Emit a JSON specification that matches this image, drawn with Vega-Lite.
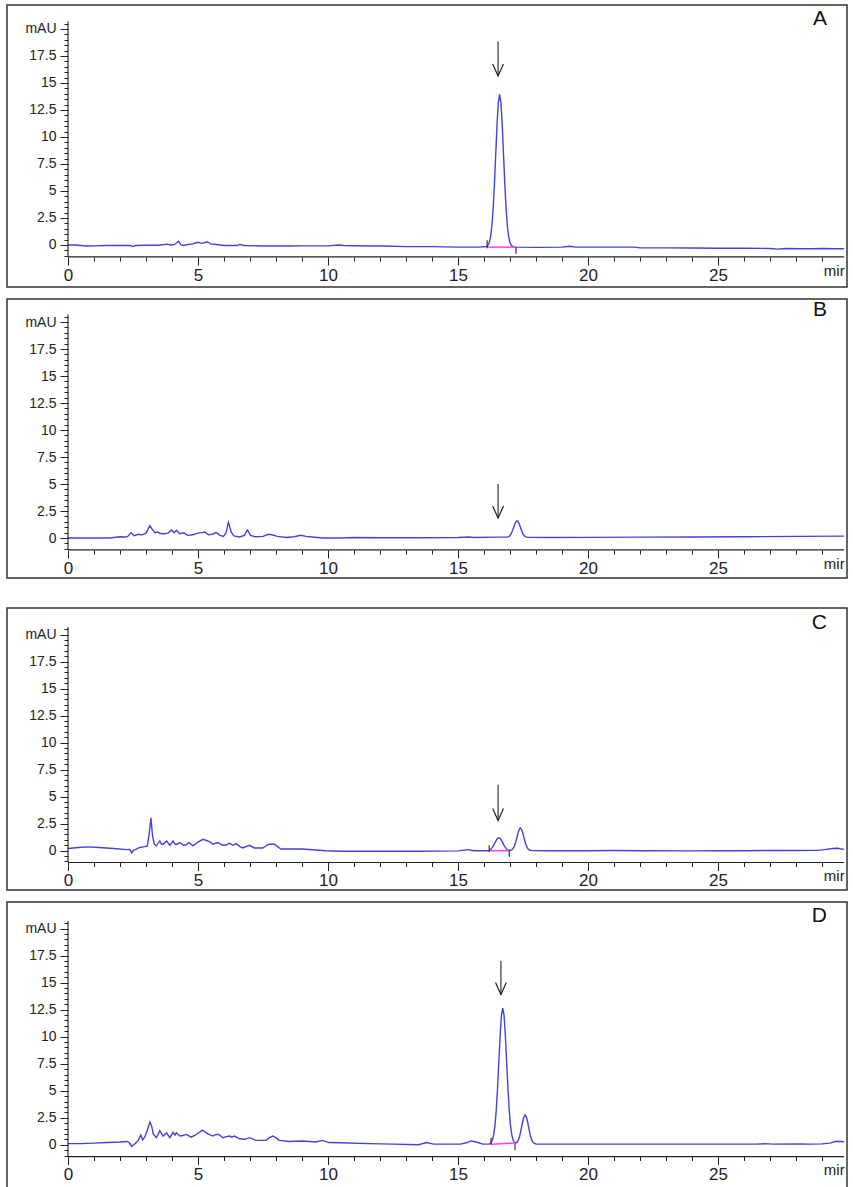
{
  "$schema": "https://vega.github.io/schema/vega-lite/v6.json",
  "background": "white",
  "padding": {"left": 6, "top": 4, "right": 6, "bottom": 4},
  "datasets": {
    "A": [
      {"t":0,"v":0},{"t":0.3,"v":0},{"t":0.5,"v":-0.05},{"t":0.7,"v":-0.1},{"t":1.0,"v":-0.08},{"t":1.5,"v":-0.05},{"t":2.0,"v":-0.05},{"t":2.4,"v":-0.05},{"t":2.5,"v":-0.15},{"t":2.6,"v":-0.05},{"t":3.0,"v":-0.03},{"t":3.5,"v":-0.03},{"t":3.8,"v":0.08},{"t":3.95,"v":0.0},{"t":4.1,"v":0.05},{"t":4.25,"v":0.35},{"t":4.35,"v":0.0},{"t":4.45,"v":-0.05},{"t":4.6,"v":0.05},{"t":4.8,"v":0.1},{"t":5.0,"v":0.25},{"t":5.15,"v":0.15},{"t":5.35,"v":0.3},{"t":5.5,"v":0.1},{"t":5.7,"v":0.05},{"t":6.0,"v":-0.05},{"t":6.5,"v":-0.05},{"t":6.6,"v":0.05},{"t":6.8,"v":-0.05},{"t":7.5,"v":-0.1},{"t":8.5,"v":-0.1},{"t":9.0,"v":-0.08},{"t":10.0,"v":-0.08},{"t":10.4,"v":0.0},{"t":10.6,"v":-0.05},{"t":11.5,"v":-0.1},{"t":12.2,"v":-0.1},{"t":13.0,"v":-0.15},{"t":14.0,"v":-0.15},{"t":15.0,"v":-0.2},{"t":15.8,"v":-0.2},
      {"t":16.1,"v":-0.14},{"t":16.15,"v":-0.04},{"t":16.2,"v":0.2},{"t":16.25,"v":0.73},{"t":16.3,"v":1.71},{"t":16.35,"v":3.32},{"t":16.4,"v":5.62},{"t":16.45,"v":8.39},{"t":16.5,"v":11.13},{"t":16.55,"v":13.19},{"t":16.6,"v":13.95},{"t":16.65,"v":13.19},{"t":16.7,"v":11.13},{"t":16.75,"v":8.39},{"t":16.8,"v":5.62},{"t":16.85,"v":3.32},{"t":16.9,"v":1.71},{"t":16.95,"v":0.73},{"t":17.0,"v":0.2},{"t":17.05,"v":-0.04},{"t":17.1,"v":-0.14},{"t":17.2,"v":-0.2},
      {"t":18.0,"v":-0.22},{"t":19.0,"v":-0.2},{"t":19.3,"v":-0.12},{"t":19.5,"v":-0.2},{"t":20.5,"v":-0.2},{"t":21.8,"v":-0.2},{"t":22.0,"v":-0.27},{"t":23.0,"v":-0.27},{"t":24.0,"v":-0.28},{"t":25.0,"v":-0.3},{"t":26.0,"v":-0.3},{"t":27.0,"v":-0.32},{"t":27.3,"v":-0.38},{"t":27.6,"v":-0.32},{"t":28.2,"v":-0.35},{"t":28.6,"v":-0.35},{"t":29.0,"v":-0.33},{"t":29.5,"v":-0.35},{"t":29.85,"v":-0.35}
    ],
    "B": [
      {"t":0,"v":0},{"t":1.0,"v":0},{"t":1.6,"v":0},{"t":2.0,"v":0.12},{"t":2.2,"v":0.1},{"t":2.3,"v":0.15},{"t":2.42,"v":0.5},{"t":2.55,"v":0.22},{"t":2.7,"v":0.35},{"t":2.85,"v":0.3},{"t":3.0,"v":0.45},{"t":3.15,"v":1.15},{"t":3.25,"v":0.75},{"t":3.35,"v":0.5},{"t":3.45,"v":0.55},{"t":3.55,"v":0.42},{"t":3.7,"v":0.4},{"t":3.85,"v":0.45},{"t":3.98,"v":0.75},{"t":4.08,"v":0.5},{"t":4.17,"v":0.72},{"t":4.3,"v":0.4},{"t":4.45,"v":0.48},{"t":4.6,"v":0.25},{"t":4.8,"v":0.3},{"t":5.0,"v":0.45},{"t":5.15,"v":0.5},{"t":5.26,"v":0.55},{"t":5.4,"v":0.3},{"t":5.55,"v":0.35},{"t":5.7,"v":0.5},{"t":5.85,"v":0.25},{"t":5.98,"v":0.15},{"t":6.08,"v":0.5},{"t":6.17,"v":1.45},{"t":6.28,"v":0.55},{"t":6.38,"v":0.2},{"t":6.6,"v":0.1},{"t":6.78,"v":0.25},{"t":6.9,"v":0.75},{"t":7.02,"v":0.25},{"t":7.2,"v":0.12},{"t":7.5,"v":0.15},{"t":7.7,"v":0.35},{"t":7.85,"v":0.3},{"t":8.05,"v":0.15},{"t":8.4,"v":0.05},{"t":8.7,"v":0.12},{"t":8.95,"v":0.25},{"t":9.15,"v":0.15},{"t":9.4,"v":0.1},{"t":9.8,"v":0.0},{"t":10.5,"v":0.0},{"t":11.0,"v":0.05},{"t":12.0,"v":0.03},{"t":13.5,"v":0.03},{"t":15.0,"v":0.05},{"t":15.4,"v":0.1},{"t":15.6,"v":0.05},{"t":16.5,"v":0.08},{"t":16.9,"v":0.08},
      {"t":16.95,"v":0.12},{"t":17.0,"v":0.23},{"t":17.05,"v":0.42},{"t":17.1,"v":0.71},{"t":17.15,"v":1.06},{"t":17.2,"v":1.39},{"t":17.25,"v":1.58},{"t":17.3,"v":1.56},{"t":17.35,"v":1.33},{"t":17.4,"v":0.99},{"t":17.45,"v":0.65},{"t":17.5,"v":0.37},{"t":17.55,"v":0.2},{"t":17.6,"v":0.11},{"t":17.7,"v":0.06},
      {"t":18.5,"v":0.05},{"t":20,"v":0.06},{"t":22,"v":0.08},{"t":24,"v":0.1},{"t":26,"v":0.12},{"t":28,"v":0.15},{"t":29.85,"v":0.18}
    ],
    "C": [
      {"t":0,"v":0.2},{"t":0.4,"v":0.3},{"t":0.75,"v":0.35},{"t":1.2,"v":0.3},{"t":1.75,"v":0.2},{"t":2.26,"v":0.1},{"t":2.38,"v":0.12},{"t":2.45,"v":-0.2},{"t":2.52,"v":0.05},{"t":2.6,"v":0.1},{"t":2.75,"v":0.3},{"t":2.9,"v":0.35},{"t":3.05,"v":0.45},{"t":3.12,"v":1.5},{"t":3.19,"v":3.05},{"t":3.25,"v":1.4},{"t":3.32,"v":0.6},{"t":3.4,"v":0.45},{"t":3.53,"v":0.9},{"t":3.6,"v":0.6},{"t":3.66,"v":0.6},{"t":3.79,"v":0.9},{"t":3.92,"v":0.5},{"t":4.04,"v":0.9},{"t":4.12,"v":0.6},{"t":4.2,"v":0.6},{"t":4.3,"v":0.75},{"t":4.45,"v":0.5},{"t":4.55,"v":0.55},{"t":4.65,"v":0.75},{"t":4.81,"v":0.45},{"t":5.0,"v":0.8},{"t":5.19,"v":1.05},{"t":5.38,"v":0.9},{"t":5.5,"v":0.75},{"t":5.57,"v":0.6},{"t":5.76,"v":0.75},{"t":5.96,"v":0.5},{"t":6.1,"v":0.55},{"t":6.21,"v":0.7},{"t":6.34,"v":0.5},{"t":6.47,"v":0.65},{"t":6.6,"v":0.4},{"t":6.72,"v":0.25},{"t":6.98,"v":0.5},{"t":7.17,"v":0.25},{"t":7.49,"v":0.25},{"t":7.65,"v":0.5},{"t":7.74,"v":0.6},{"t":7.93,"v":0.6},{"t":8.05,"v":0.4},{"t":8.19,"v":0.15},{"t":8.6,"v":0.15},{"t":9.02,"v":0.15},{"t":9.4,"v":0.08},{"t":9.91,"v":0.0},{"t":10.5,"v":-0.05},{"t":12.0,"v":-0.05},{"t":13.5,"v":-0.05},{"t":15.0,"v":-0.02},{"t":15.4,"v":0.1},{"t":15.6,"v":0.0},{"t":16.2,"v":0.0},
      {"t":16.27,"v":0.15},{"t":16.32,"v":0.3},{"t":16.37,"v":0.49},{"t":16.42,"v":0.73},{"t":16.47,"v":0.96},{"t":16.52,"v":1.14},{"t":16.57,"v":1.2},{"t":16.62,"v":1.14},{"t":16.67,"v":0.96},{"t":16.72,"v":0.73},{"t":16.77,"v":0.49},{"t":16.82,"v":0.3},{"t":16.87,"v":0.16},{"t":16.92,"v":0.08},{"t":16.97,"v":0.04},{"t":17.02,"v":0.04},{"t":17.07,"v":0.08},{"t":17.12,"v":0.21},{"t":17.17,"v":0.44},{"t":17.22,"v":0.81},{"t":17.27,"v":1.27},{"t":17.32,"v":1.74},{"t":17.37,"v":2.05},{"t":17.4,"v":2.1},{"t":17.45,"v":1.95},{"t":17.5,"v":1.56},{"t":17.55,"v":1.08},{"t":17.6,"v":0.64},{"t":17.65,"v":0.33},{"t":17.7,"v":0.15},{"t":17.75,"v":0.06},{"t":17.85,"v":0.01},
      {"t":18.5,"v":0.0},{"t":20,"v":0.0},{"t":21,"v":0.02},{"t":22,"v":0.0},{"t":24,"v":-0.02},{"t":25,"v":0.0},{"t":26,"v":0.0},{"t":27,"v":0.02},{"t":28,"v":0.02},{"t":28.8,"v":0.03},{"t":29.1,"v":0.1},{"t":29.4,"v":0.2},{"t":29.6,"v":0.22},{"t":29.75,"v":0.15},{"t":29.85,"v":0.12}
    ],
    "D": [
      {"t":0,"v":0.1},{"t":0.5,"v":0.1},{"t":1.0,"v":0.15},{"t":1.5,"v":0.2},{"t":2.0,"v":0.25},{"t":2.26,"v":0.3},{"t":2.35,"v":0.2},{"t":2.45,"v":-0.15},{"t":2.52,"v":0.0},{"t":2.58,"v":0.1},{"t":2.7,"v":0.4},{"t":2.8,"v":0.9},{"t":2.87,"v":0.45},{"t":2.95,"v":0.7},{"t":3.05,"v":1.35},{"t":3.15,"v":2.1},{"t":3.22,"v":1.7},{"t":3.28,"v":1.0},{"t":3.4,"v":0.65},{"t":3.53,"v":1.3},{"t":3.66,"v":0.8},{"t":3.79,"v":1.1},{"t":3.92,"v":0.65},{"t":4.04,"v":1.15},{"t":4.12,"v":0.9},{"t":4.17,"v":1.1},{"t":4.3,"v":0.8},{"t":4.42,"v":0.85},{"t":4.55,"v":0.95},{"t":4.74,"v":0.7},{"t":4.94,"v":0.95},{"t":5.17,"v":1.35},{"t":5.38,"v":1.0},{"t":5.57,"v":0.8},{"t":5.7,"v":0.95},{"t":5.8,"v":0.95},{"t":5.96,"v":0.65},{"t":6.1,"v":0.75},{"t":6.21,"v":0.8},{"t":6.3,"v":0.7},{"t":6.4,"v":0.8},{"t":6.6,"v":0.55},{"t":6.8,"v":0.5},{"t":6.98,"v":0.65},{"t":7.23,"v":0.4},{"t":7.61,"v":0.4},{"t":7.75,"v":0.65},{"t":7.87,"v":0.8},{"t":8.0,"v":0.65},{"t":8.12,"v":0.4},{"t":8.5,"v":0.3},{"t":9.02,"v":0.35},{"t":9.3,"v":0.3},{"t":9.53,"v":0.25},{"t":9.78,"v":0.4},{"t":10.04,"v":0.2},{"t":10.5,"v":0.18},{"t":11.57,"v":0.1},{"t":12.5,"v":0.05},{"t":13.48,"v":0.0},{"t":13.8,"v":0.2},{"t":14.06,"v":0.05},{"t":15.1,"v":0.05},{"t":15.35,"v":0.2},{"t":15.5,"v":0.35},{"t":15.7,"v":0.25},{"t":15.96,"v":0.05},{"t":16.2,"v":0.05},
      {"t":16.27,"v":0.19},{"t":16.32,"v":0.41},{"t":16.37,"v":0.88},{"t":16.42,"v":1.75},{"t":16.47,"v":3.19},{"t":16.52,"v":5.23},{"t":16.57,"v":7.7},{"t":16.62,"v":10.14},{"t":16.67,"v":11.97},{"t":16.72,"v":12.65},{"t":16.77,"v":11.97},{"t":16.82,"v":10.14},{"t":16.87,"v":7.7},{"t":16.92,"v":5.23},{"t":16.97,"v":3.19},{"t":17.02,"v":1.75},{"t":17.07,"v":0.88},{"t":17.12,"v":0.41},{"t":17.17,"v":0.22},
      {"t":17.22,"v":0.16},{"t":17.27,"v":0.21},{"t":17.32,"v":0.42},{"t":17.37,"v":0.78},{"t":17.42,"v":1.32},{"t":17.47,"v":1.94},{"t":17.52,"v":2.48},{"t":17.58,"v":2.75},{"t":17.63,"v":2.56},{"t":17.68,"v":2.06},{"t":17.73,"v":1.44},{"t":17.78,"v":0.88},{"t":17.83,"v":0.47},{"t":17.88,"v":0.24},{"t":17.93,"v":0.12},{"t":18.0,"v":0.07},
      {"t":18.5,"v":0.05},{"t":20,"v":0.05},{"t":22,"v":0.05},{"t":24,"v":0.05},{"t":26.5,"v":0.05},{"t":26.8,"v":0.1},{"t":27.1,"v":0.05},{"t":28.2,"v":0.08},{"t":28.5,"v":0.05},{"t":29.0,"v":0.08},{"t":29.3,"v":0.15},{"t":29.55,"v":0.32},{"t":29.7,"v":0.3},{"t":29.85,"v":0.28}
    ],
    "rA": [
      {"t":0,"t2":29.85,"v":-1.1,"v2":-1.1},{"t":0,"t2":0,"v":-1.1,"v2":20.7},
      {"t":16.12,"t2":16.12,"v":-0.3,"v2":0.43},{"t":17.23,"t2":17.23,"v":-0.2,"v2":-0.8},
      {"t":16.54,"t2":16.54,"v":15.65,"v2":18.85}
    ],
    "rB": [
      {"t":0,"t2":29.85,"v":-1.1,"v2":-1.1},{"t":0,"t2":0,"v":-1.1,"v2":20.7},
      {"t":16.54,"t2":16.54,"v":1.85,"v2":5.0}
    ],
    "rC": [
      {"t":0,"t2":29.85,"v":-1.1,"v2":-1.1},{"t":0,"t2":0,"v":-1.1,"v2":20.7},
      {"t":16.2,"t2":16.2,"v":-0.1,"v2":0.5},{"t":16.97,"t2":16.97,"v":0.05,"v2":-0.55},
      {"t":16.54,"t2":16.54,"v":2.8,"v2":6.1}
    ],
    "rD": [
      {"t":0,"t2":29.85,"v":-1.1,"v2":-1.1},{"t":0,"t2":0,"v":-1.1,"v2":20.7},
      {"t":16.27,"t2":16.27,"v":0.0,"v2":0.65},{"t":17.19,"t2":17.19,"v":0.1,"v2":-0.52},
      {"t":16.65,"t2":16.65,"v":13.9,"v2":17.0}
    ],
    "pA": [{"t":16.12,"t2":17.23,"v":-0.2,"v2":-0.2}],
    "pC": [{"t":16.2,"t2":16.97,"v":0.0,"v2":0.0}],
    "pD": [{"t":16.27,"t2":17.19,"v":0.05,"v2":0.15}],
    "hA": [{"t":16.54,"v":15.65}],
    "hB": [{"t":16.54,"v":1.85}],
    "hC": [{"t":16.54,"v":2.8}],
    "hD": [{"t":16.65,"v":13.9}]
  },
  "spacing": 28,
  "vconcat": [
    {
      "spacing": 10,
      "vconcat": [
        {
          "width": 840, "height": 282,
          "title": {"text": "A", "anchor": "end", "frame": "group", "orient": "top", "offset": -41, "dx": -20, "baseline": "alphabetic", "fontSize": 21, "fontWeight": "normal", "font": "Liberation Sans", "color": "#111"},
          "encoding": {
            "x": {"field": "t", "type": "quantitative", "scale": {"domain": [-2.346, 29.96], "nice": false, "zero": false},
              "axis": {"orient": "bottom", "offset": -30, "title": null, "domain": false, "grid": false, "format": "~g", "labelOverlap": false, "labelFlush": false,
                "values": [0,1,2,3,4,5,6,7,8,9,10,11,12,13,14,15,16,17,18,19,20,21,22,23,24,25,26,27,28,29,29.85],
                "labelExpr": "datum.value > 29.5 ? 'mir' : (datum.value % 5 === 0 ? datum.label : '')",
                "tickSize": {"condition": {"test": "datum.value % 5 === 0", "value": 8}, "value": 4},
                "tickOpacity": {"condition": {"test": "datum.value > 29.5", "value": 0}, "value": 1},
                "labelAlign": {"condition": {"test": "datum.value > 29.5", "value": "right"}, "value": "center"},
                "labelFontSize": {"condition": {"test": "datum.value > 29.5", "value": 15}, "value": 17},
                "labelPadding": 2, "labelFont": "Liberation Sans", "labelColor": "#222", "tickColor": "#222"}},
            "y": {"field": "v", "type": "quantitative", "scale": {"domain": [-3.89, 22.22], "nice": false, "zero": false},
              "axis": {"orient": "left", "offset": -61, "title": null, "domain": false, "grid": false, "format": "~g", "labelOverlap": false,
                "values": [-1,-0.5,0,0.5,1,1.5,2,2.5,3,3.5,4,4.5,5,5.5,6,6.5,7,7.5,8,8.5,9,9.5,10,10.5,11,11.5,12,12.5,13,13.5,14,14.5,15,15.5,16,16.5,17,17.5,18,18.5,19,19.5,20,20.5],
                "labelExpr": "datum.value === 20 ? 'mAU' : (datum.value >= 0 && datum.value % 2.5 === 0 ? datum.label : '')",
                "tickSize": {"condition": {"test": "datum.value % 2.5 === 0", "value": 8}, "value": 4},
                "labelPadding": 4, "labelFontSize": 14, "labelFont": "Liberation Sans", "labelColor": "#222", "tickColor": "#222"}}
          },
          "layer": [
            {"data": {"name": "A"}, "mark": {"type": "line", "color": "#4343d8", "strokeWidth": 1.4}},
            {"data": {"name": "pA"}, "mark": {"type": "rule", "color": "#ff3cff", "strokeWidth": 1.5}, "encoding": {"x2": {"field": "t2"}, "y2": {"field": "v2"}}},
            {"data": {"name": "rA"}, "mark": {"type": "rule", "color": "#222", "strokeWidth": 1.1}, "encoding": {"x2": {"field": "t2"}, "y2": {"field": "v2"}}},
            {"data": {"name": "hA"}, "mark": {"type": "point", "shape": "M-0.45,-1L0,0L0.45,-1", "size": 576, "filled": false, "color": "#222", "strokeWidth": 1.2, "opacity": 1}}
          ]
        },
        {
          "width": 840, "height": 279,
          "title": {"text": "B", "anchor": "end", "frame": "group", "orient": "top", "offset": -38, "dx": -20, "baseline": "alphabetic", "fontSize": 21, "fontWeight": "normal", "font": "Liberation Sans", "color": "#111"},
          "encoding": {
            "x": {"field": "t", "type": "quantitative", "scale": {"domain": [-2.346, 29.96], "nice": false, "zero": false},
              "axis": {"orient": "bottom", "offset": -28, "title": null, "domain": false, "grid": false, "format": "~g", "labelOverlap": false, "labelFlush": false,
                "values": [0,1,2,3,4,5,6,7,8,9,10,11,12,13,14,15,16,17,18,19,20,21,22,23,24,25,26,27,28,29,29.85],
                "labelExpr": "datum.value > 29.5 ? 'mir' : (datum.value % 5 === 0 ? datum.label : '')",
                "tickSize": {"condition": {"test": "datum.value % 5 === 0", "value": 8}, "value": 4},
                "tickOpacity": {"condition": {"test": "datum.value > 29.5", "value": 0}, "value": 1},
                "labelAlign": {"condition": {"test": "datum.value > 29.5", "value": "right"}, "value": "center"},
                "labelFontSize": {"condition": {"test": "datum.value > 29.5", "value": 15}, "value": 17},
                "labelPadding": 2, "labelFont": "Liberation Sans", "labelColor": "#222", "tickColor": "#222"}},
            "y": {"field": "v", "type": "quantitative", "scale": {"domain": [-3.70, 22.13], "nice": false, "zero": false},
              "axis": {"orient": "left", "offset": -61, "title": null, "domain": false, "grid": false, "format": "~g", "labelOverlap": false,
                "values": [-1,-0.5,0,0.5,1,1.5,2,2.5,3,3.5,4,4.5,5,5.5,6,6.5,7,7.5,8,8.5,9,9.5,10,10.5,11,11.5,12,12.5,13,13.5,14,14.5,15,15.5,16,16.5,17,17.5,18,18.5,19,19.5,20,20.5],
                "labelExpr": "datum.value === 20 ? 'mAU' : (datum.value >= 0 && datum.value % 2.5 === 0 ? datum.label : '')",
                "tickSize": {"condition": {"test": "datum.value % 2.5 === 0", "value": 8}, "value": 4},
                "labelPadding": 4, "labelFontSize": 14, "labelFont": "Liberation Sans", "labelColor": "#222", "tickColor": "#222"}}
          },
          "layer": [
            {"data": {"name": "B"}, "mark": {"type": "line", "color": "#4343d8", "strokeWidth": 1.4}},
            {"data": {"name": "rB"}, "mark": {"type": "rule", "color": "#222", "strokeWidth": 1.1}, "encoding": {"x2": {"field": "t2"}, "y2": {"field": "v2"}}},
            {"data": {"name": "hB"}, "mark": {"type": "point", "shape": "M-0.45,-1L0,0L0.45,-1", "size": 576, "filled": false, "color": "#222", "strokeWidth": 1.2, "opacity": 1}}
          ]
        }
      ]
    },
    {
      "spacing": 10,
      "vconcat": [
        {
          "width": 840, "height": 282,
          "title": {"text": "C", "anchor": "end", "frame": "group", "orient": "top", "offset": -42, "dx": -20, "baseline": "alphabetic", "fontSize": 21, "fontWeight": "normal", "font": "Liberation Sans", "color": "#111"},
          "encoding": {
            "x": {"field": "t", "type": "quantitative", "scale": {"domain": [-2.346, 29.96], "nice": false, "zero": false},
              "axis": {"orient": "bottom", "offset": -27.5, "title": null, "domain": false, "grid": false, "format": "~g", "labelOverlap": false, "labelFlush": false,
                "values": [0,1,2,3,4,5,6,7,8,9,10,11,12,13,14,15,16,17,18,19,20,21,22,23,24,25,26,27,28,29,29.85],
                "labelExpr": "datum.value > 29.5 ? 'mir' : (datum.value % 5 === 0 ? datum.label : '')",
                "tickSize": {"condition": {"test": "datum.value % 5 === 0", "value": 8}, "value": 4},
                "tickOpacity": {"condition": {"test": "datum.value > 29.5", "value": 0}, "value": 1},
                "labelAlign": {"condition": {"test": "datum.value > 29.5", "value": "right"}, "value": "center"},
                "labelFontSize": {"condition": {"test": "datum.value > 29.5", "value": 15}, "value": 17},
                "labelPadding": 2, "labelFont": "Liberation Sans", "labelColor": "#222", "tickColor": "#222"}},
            "y": {"field": "v", "type": "quantitative", "scale": {"domain": [-3.64, 22.47], "nice": false, "zero": false},
              "axis": {"orient": "left", "offset": -61, "title": null, "domain": false, "grid": false, "format": "~g", "labelOverlap": false,
                "values": [-1,-0.5,0,0.5,1,1.5,2,2.5,3,3.5,4,4.5,5,5.5,6,6.5,7,7.5,8,8.5,9,9.5,10,10.5,11,11.5,12,12.5,13,13.5,14,14.5,15,15.5,16,16.5,17,17.5,18,18.5,19,19.5,20,20.5],
                "labelExpr": "datum.value === 20 ? 'mAU' : (datum.value >= 0 && datum.value % 2.5 === 0 ? datum.label : '')",
                "tickSize": {"condition": {"test": "datum.value % 2.5 === 0", "value": 8}, "value": 4},
                "labelPadding": 4, "labelFontSize": 14, "labelFont": "Liberation Sans", "labelColor": "#222", "tickColor": "#222"}}
          },
          "layer": [
            {"data": {"name": "C"}, "mark": {"type": "line", "color": "#4343d8", "strokeWidth": 1.4}},
            {"data": {"name": "pC"}, "mark": {"type": "rule", "color": "#ff3cff", "strokeWidth": 1.5}, "encoding": {"x2": {"field": "t2"}, "y2": {"field": "v2"}}},
            {"data": {"name": "rC"}, "mark": {"type": "rule", "color": "#222", "strokeWidth": 1.1}, "encoding": {"x2": {"field": "t2"}, "y2": {"field": "v2"}}},
            {"data": {"name": "hC"}, "mark": {"type": "point", "shape": "M-0.45,-1L0,0L0.45,-1", "size": 576, "filled": false, "color": "#222", "strokeWidth": 1.2, "opacity": 1}}
          ]
        },
        {
          "width": 840, "height": 287,
          "title": {"text": "D", "anchor": "end", "frame": "group", "orient": "top", "offset": -41, "dx": -20, "baseline": "alphabetic", "fontSize": 21, "fontWeight": "normal", "font": "Liberation Sans", "color": "#111"},
          "encoding": {
            "x": {"field": "t", "type": "quantitative", "scale": {"domain": [-2.346, 29.96], "nice": false, "zero": false},
              "axis": {"orient": "bottom", "offset": -32.5, "title": null, "domain": false, "grid": false, "format": "~g", "labelOverlap": false, "labelFlush": false,
                "values": [0,1,2,3,4,5,6,7,8,9,10,11,12,13,14,15,16,17,18,19,20,21,22,23,24,25,26,27,28,29,29.85],
                "labelExpr": "datum.value > 29.5 ? 'mir' : (datum.value % 5 === 0 ? datum.label : '')",
                "tickSize": {"condition": {"test": "datum.value % 5 === 0", "value": 8}, "value": 4},
                "tickOpacity": {"condition": {"test": "datum.value > 29.5", "value": 0}, "value": 1},
                "labelAlign": {"condition": {"test": "datum.value > 29.5", "value": "right"}, "value": "center"},
                "labelFontSize": {"condition": {"test": "datum.value > 29.5", "value": 15}, "value": 17},
                "labelPadding": 2, "labelFont": "Liberation Sans", "labelColor": "#222", "tickColor": "#222"}},
            "y": {"field": "v", "type": "quantitative", "scale": {"domain": [-4.10, 22.47], "nice": false, "zero": false},
              "axis": {"orient": "left", "offset": -61, "title": null, "domain": false, "grid": false, "format": "~g", "labelOverlap": false,
                "values": [-1,-0.5,0,0.5,1,1.5,2,2.5,3,3.5,4,4.5,5,5.5,6,6.5,7,7.5,8,8.5,9,9.5,10,10.5,11,11.5,12,12.5,13,13.5,14,14.5,15,15.5,16,16.5,17,17.5,18,18.5,19,19.5,20,20.5],
                "labelExpr": "datum.value === 20 ? 'mAU' : (datum.value >= 0 && datum.value % 2.5 === 0 ? datum.label : '')",
                "tickSize": {"condition": {"test": "datum.value % 2.5 === 0", "value": 8}, "value": 4},
                "labelPadding": 4, "labelFontSize": 14, "labelFont": "Liberation Sans", "labelColor": "#222", "tickColor": "#222"}}
          },
          "layer": [
            {"data": {"name": "D"}, "mark": {"type": "line", "color": "#4343d8", "strokeWidth": 1.4}},
            {"data": {"name": "pD"}, "mark": {"type": "rule", "color": "#ff3cff", "strokeWidth": 1.5}, "encoding": {"x2": {"field": "t2"}, "y2": {"field": "v2"}}},
            {"data": {"name": "rD"}, "mark": {"type": "rule", "color": "#222", "strokeWidth": 1.1}, "encoding": {"x2": {"field": "t2"}, "y2": {"field": "v2"}}},
            {"data": {"name": "hD"}, "mark": {"type": "point", "shape": "M-0.45,-1L0,0L0.45,-1", "size": 576, "filled": false, "color": "#222", "strokeWidth": 1.2, "opacity": 1}}
          ]
        }
      ]
    }
  ],
  "config": {
    "view": {"stroke": "#333", "strokeWidth": 1.5},
    "axis": {"tickWidth": 1}
  }
}
